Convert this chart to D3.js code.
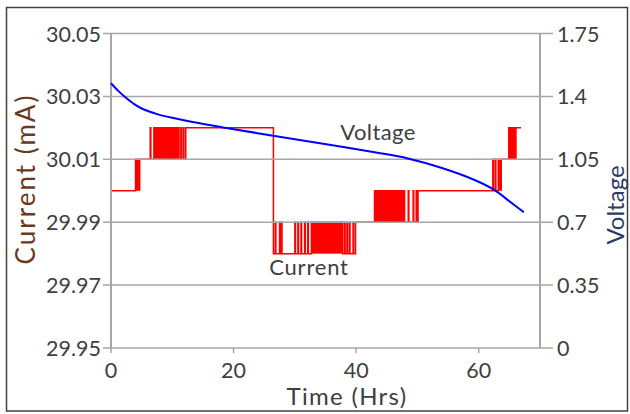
<!DOCTYPE html>
<html>
<head>
<meta charset="utf-8">
<script src="https://cdn.jsdelivr.net/npm/d3@7"></script>
<style>
  body { margin: 0; background: #fff; }
  svg text { font-family: Lato, "Open Sans", sans-serif; }
</style>
</head>
<body>
<div id="chart"></div>
<script>
// axis ticks
var timeTicks = [0, 20, 40, 60];
var currentTicks = [29.95, 29.97, 29.99, 30.01, 30.03, 30.05];
var voltageTicks = [0, 0.35, 0.7, 1.05, 1.4, 1.75];
var voltageTickLabels = ["0", "0.35", "0.7", "1.05", "1.4", "1.75"];

// voltage curve (hrs, V)
var voltageTime = [0, 1.14, 2.24, 3.59, 4.94, 7.67, 10.39, 13.1, 18.55, 26.71, 34.87, 43.03, 48.45, 53.88, 59.33, 62.59, 64.76, 67.37];
var voltageValue = [1.473, 1.432, 1.398, 1.362, 1.334, 1.300, 1.278, 1.259, 1.226, 1.180, 1.135, 1.089, 1.055, 1.003, 0.935, 0.879, 0.823, 0.755];

// current steps (hrs, mA) - value holds until the next time
var currentTime = [0, 0.02, 4.0, 4.8, 6.4, 6.5, 7.0, 11.1, 11.4, 11.5, 11.8, 11.9, 12.2,
    26.5, 26.8, 26.9, 27.5, 27.6, 27.8, 27.9, 30.0, 30.1, 30.5, 30.6, 31.0, 31.1, 31.6, 31.7, 32.1, 32.2,
    32.7, 37.8, 38.1, 38.2, 38.5, 38.6, 38.9, 39.0, 39.5, 39.6, 39.9,
    43.0, 47.9, 48.5, 48.6, 49.3, 49.4, 49.8, 49.9, 50.1,
    62.3, 62.4, 62.7, 62.8, 63.2, 63.8, 64.9, 66.2, 66.9];
var currentValue = [29.98, 30.00, 30.01, 30.01, 30.02, 30.01, 30.02, 30.01, 30.02, 30.01, 30.02, 30.01, 30.02,
    29.98, 29.99, 29.98, 29.99, 29.98, 29.99, 29.98, 29.99, 29.98, 29.99, 29.98, 29.99, 29.98, 29.99, 29.98, 29.99, 29.98,
    29.99, 29.98, 29.99, 29.98, 29.99, 29.98, 29.99, 29.98, 29.99, 29.98, 29.99,
    30.00, 29.99, 30.00, 29.99, 30.00, 29.99, 30.00, 29.99, 30.00,
    30.01, 30.00, 30.01, 30.00, 30.01, 30.01, 30.02, 30.02, 30.02];

// stretches where the current toggles too fast to separate
var burstStart = [4.0, 7.0, 32.7, 43.0, 63.2, 64.9];
var burstEnd = [4.8, 11.1, 37.8, 47.9, 63.8, 66.2];
var burstLow = [30.00, 30.01, 29.98, 29.99, 30.00, 30.01];
var burstHigh = [30.01, 30.02, 29.99, 30.00, 30.01, 30.02];

var W = 630, H = 414;
var svg = d3.select("#chart").append("svg")
    .attr("width", W)
    .attr("height", H);

// outer frame
svg.append("rect")
    .attr("x", 6.5).attr("y", 7.5)
    .attr("width", 621).attr("height", 403.5)
    .attr("fill", "none")
    .attr("stroke", "#404040")
    .attr("stroke-width", 1.5);

var x = d3.scaleLinear().domain([0, 70]).range([111, 540]);
var yC = d3.scaleLinear().domain([29.95, 30.05]).range([348, 33.5]);
var yV = d3.scaleLinear().domain([0, 1.75]).range([348, 33.5]);

var grey = "#a6a6a6";

// current series
var steps = currentTime.map(function(t, i) { return [t, currentValue[i]]; });
svg.append("path")
    .datum(steps)
    .attr("fill", "none")
    .attr("stroke", "#ff0000")
    .attr("stroke-width", 1.5)
    .attr("d", d3.line()
        .x(function(d) { return x(d[0]); })
        .y(function(d) { return yC(d[1]); })
        .curve(d3.curveStepAfter));

svg.selectAll("rect.burst")
    .data(burstStart)
    .enter().append("rect")
    .attr("class", "burst")
    .attr("x", function(d) { return x(d); })
    .attr("width", function(d, i) { return x(burstEnd[i]) - x(d); })
    .attr("y", function(d, i) { return yC(burstHigh[i]); })
    .attr("height", function(d, i) { return yC(burstLow[i]) - yC(burstHigh[i]); })
    .attr("fill", "#ff0000");

// gridlines
svg.selectAll("line.grid")
    .data(currentTicks)
    .enter().append("line")
    .attr("class", "grid")
    .attr("x1", x(0) - 8).attr("x2", x(70) + 13)
    .attr("y1", function(d) { return yC(d); })
    .attr("y2", function(d) { return yC(d); })
    .attr("stroke", grey)
    .attr("stroke-width", 1.5);

// axis lines
svg.append("line")
    .attr("x1", x(0)).attr("x2", x(0))
    .attr("y1", yC(30.05)).attr("y2", yC(29.95))
    .attr("stroke", grey).attr("stroke-width", 2);
svg.append("line")
    .attr("x1", x(70)).attr("x2", x(70))
    .attr("y1", yC(30.05)).attr("y2", yC(29.95))
    .attr("stroke", grey).attr("stroke-width", 2);

svg.selectAll("line.xtick")
    .data(timeTicks)
    .enter().append("line")
    .attr("class", "xtick")
    .attr("x1", function(d) { return x(d); })
    .attr("x2", function(d) { return x(d); })
    .attr("y1", yC(29.95)).attr("y2", yC(29.95) + 5)
    .attr("stroke", grey).attr("stroke-width", 1.5);

// voltage series
var volts = voltageTime.map(function(t, i) { return [t, voltageValue[i]]; });
svg.append("path")
    .datum(volts)
    .attr("fill", "none")
    .attr("stroke", "#0000ff")
    .attr("stroke-width", 2)
    .attr("d", d3.line()
        .x(function(d) { return x(d[0]); })
        .y(function(d) { return yV(d[1]); })
        .curve(d3.curveCatmullRom));

// tick labels
svg.selectAll("text.ylab")
    .data(currentTicks)
    .enter().append("text")
    .attr("class", "ylab")
    .attr("x", 101)
    .attr("y", function(d) { return yC(d) + 8; })
    .attr("text-anchor", "end")
    .attr("font-size", 21.5)
    .attr("fill", "#404040")
    .text(d3.format(".2f"));

svg.selectAll("text.vlab")
    .data(voltageTicks)
    .enter().append("text")
    .attr("class", "vlab")
    .attr("x", 557)
    .attr("y", function(d) { return yV(d) + 8; })
    .attr("font-size", 21.5)
    .attr("fill", "#404040")
    .text(function(d, i) { return voltageTickLabels[i]; });

svg.selectAll("text.xlab")
    .data(timeTicks)
    .enter().append("text")
    .attr("class", "xlab")
    .attr("x", function(d) { return x(d); })
    .attr("y", 378)
    .attr("text-anchor", "middle")
    .attr("font-size", 21.5)
    .attr("fill", "#404040")
    .text(function(d) { return d; });

// axis titles
svg.append("text")
    .attr("transform", "translate(35,179) rotate(-90)")
    .attr("text-anchor", "middle")
    .attr("font-size", 26)
    .attr("letter-spacing", 2)
    .attr("fill", "#6b3a1a")
    .text("Current (mA)");

svg.append("text")
    .attr("transform", "translate(624,205) rotate(-90)")
    .attr("text-anchor", "middle")
    .attr("font-size", 24)
    .attr("fill", "#2b3a67")
    .text("Voltage");

svg.append("text")
    .attr("x", 347).attr("y", 405)
    .attr("text-anchor", "middle")
    .attr("font-size", 24)
    .attr("letter-spacing", 1.3)
    .attr("fill", "#404040")
    .text("Time (Hrs)");

// series labels
svg.append("text")
    .attr("x", 378).attr("y", 140)
    .attr("text-anchor", "middle")
    .attr("font-size", 22)
    .attr("letter-spacing", 0.4)
    .attr("fill", "#404040")
    .text("Voltage");

svg.append("text")
    .attr("x", 309).attr("y", 275)
    .attr("text-anchor", "middle")
    .attr("font-size", 22)
    .attr("letter-spacing", 0.8)
    .attr("fill", "#404040")
    .text("Current");
</script>
</body>
</html>
